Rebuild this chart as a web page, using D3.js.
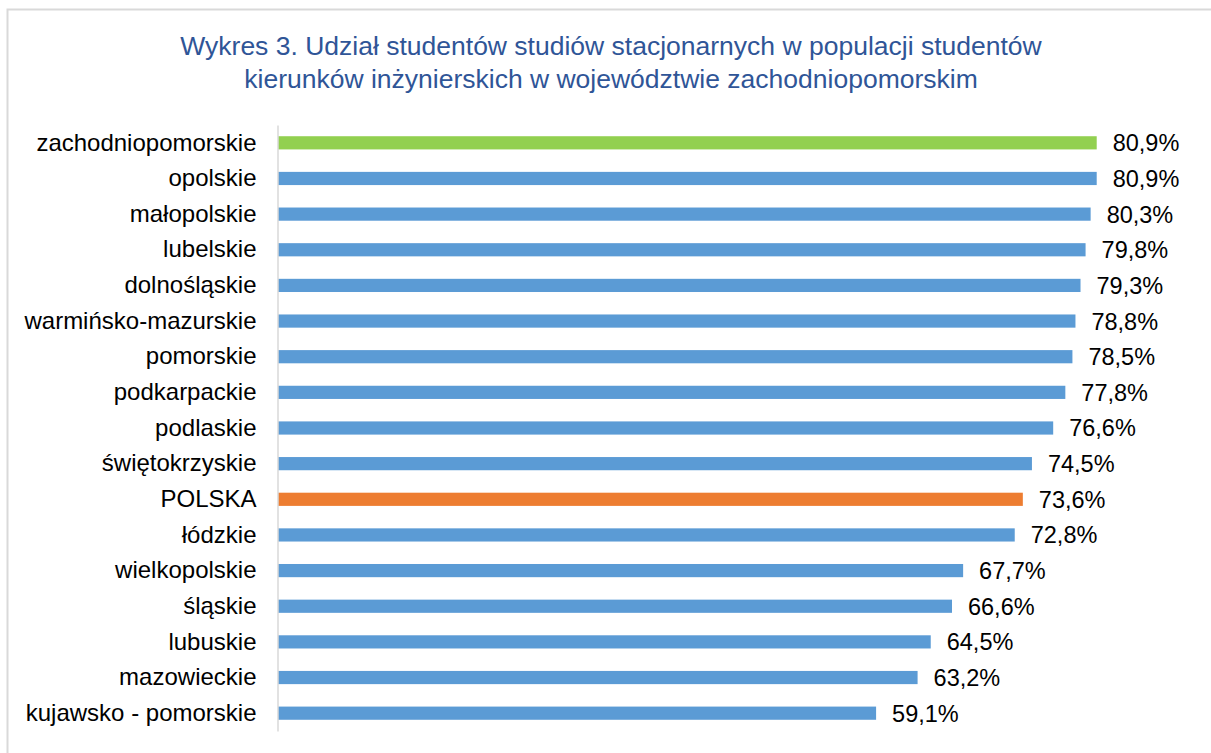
<!DOCTYPE html>
<html>
<head>
<meta charset="utf-8">
<script src="https://cdn.jsdelivr.net/npm/d3@7"></script>
<style>
  html, body { margin: 0; padding: 0; background: #fff; }
  svg { display: block; font-family: "Liberation Sans", Arial, sans-serif; }
</style>
</head>
<body>
<svg id="chart" width="1211" height="753"></svg>
<script>
const regions = [
    "zachodniopomorskie", "opolskie", "małopolskie", "lubelskie", "dolnośląskie",
    "warmińsko-mazurskie", "pomorskie", "podkarpackie", "podlaskie", "świętokrzyskie",
    "POLSKA", "łódzkie", "wielkopolskie", "śląskie", "lubuskie", "mazowieckie",
    "kujawsko - pomorskie"
];
const values = [80.9, 80.9, 80.3, 79.8, 79.3, 78.8, 78.5, 77.8, 76.6, 74.5, 73.6, 72.8, 67.7, 66.6, 64.5, 63.2, 59.1];
const titleLines = [
    "Wykres 3. Udział studentów studiów stacjonarnych w populacji studentów",
    "kierunków inżynierskich w województwie zachodniopomorskim"
];

const WIDTH = 1211, HEIGHT = 753;
const MARGIN = { TOP: 125, LEFT: 278, BOTTOM: 22 };

const svg = d3.select("#chart");

// frame
svg.append("rect")
    .attr("x", 7.5).attr("y", 9.5)
    .attr("width", WIDTH + 10).attr("height", HEIGHT + 10)
    .attr("fill", "#fff")
    .attr("stroke", "#d9d9d9")
    .attr("stroke-width", 2);

// title
svg.append("text")
    .attr("x", 611).attr("y", 55)
    .attr("text-anchor", "middle")
    .attr("font-size", "26.5px")
    .attr("fill", "#2f5597")
    .selectAll("tspan")
    .data(titleLines)
    .join("tspan")
    .attr("x", 611)
    .attr("dy", (d, i) => i === 0 ? 0 : 33)
    .text(d => d);

const xScale = d3.scaleLinear()
    .domain([0, 90])
    .range([MARGIN.LEFT, MARGIN.LEFT + 910.8]);

const yScale = d3.scaleBand()
    .domain(regions)
    .range([MARGIN.TOP, HEIGHT - MARGIN.BOTTOM])
    .paddingInner(0.63)
    .paddingOuter(0.315);

const color = d => d === "zachodniopomorskie" ? "#92d050" : d === "POLSKA" ? "#ed7d31" : "#5b9bd5";

const rows = regions.map((r, i) => ({ region: r, value: values[i] }));

svg.append("g")
    .selectAll("rect")
    .data(rows)
    .join("rect")
    .attr("x", xScale(0))
    .attr("y", d => yScale(d.region))
    .attr("width", d => xScale(d.value) - xScale(0))
    .attr("height", yScale.bandwidth())
    .attr("fill", d => color(d.region));

// value labels
svg.append("g")
    .selectAll("text")
    .data(rows)
    .join("text")
    .attr("x", d => xScale(d.value) + 16)
    .attr("y", d => yScale(d.region) + yScale.bandwidth() / 2)
    .attr("dy", "0.36em")
    .attr("font-size", "23.5px")
    .attr("fill", "#000")
    .text(d => d.value.toFixed(1).replace(".", ",") + "%");

// category axis
const yAxis = svg.append("g")
    .attr("transform", `translate(${MARGIN.LEFT - 0.5},0)`)
    .call(d3.axisLeft(yScale).tickSize(0).tickPadding(21));
yAxis.select(".domain").attr("stroke", "#d9d9d9").attr("stroke-width", 1.5);
yAxis.selectAll("text")
    .attr("font-size", "24px")
    .attr("font-family", "Liberation Sans, Arial, sans-serif")
    .attr("fill", "#000");
</script>
</body>
</html>
